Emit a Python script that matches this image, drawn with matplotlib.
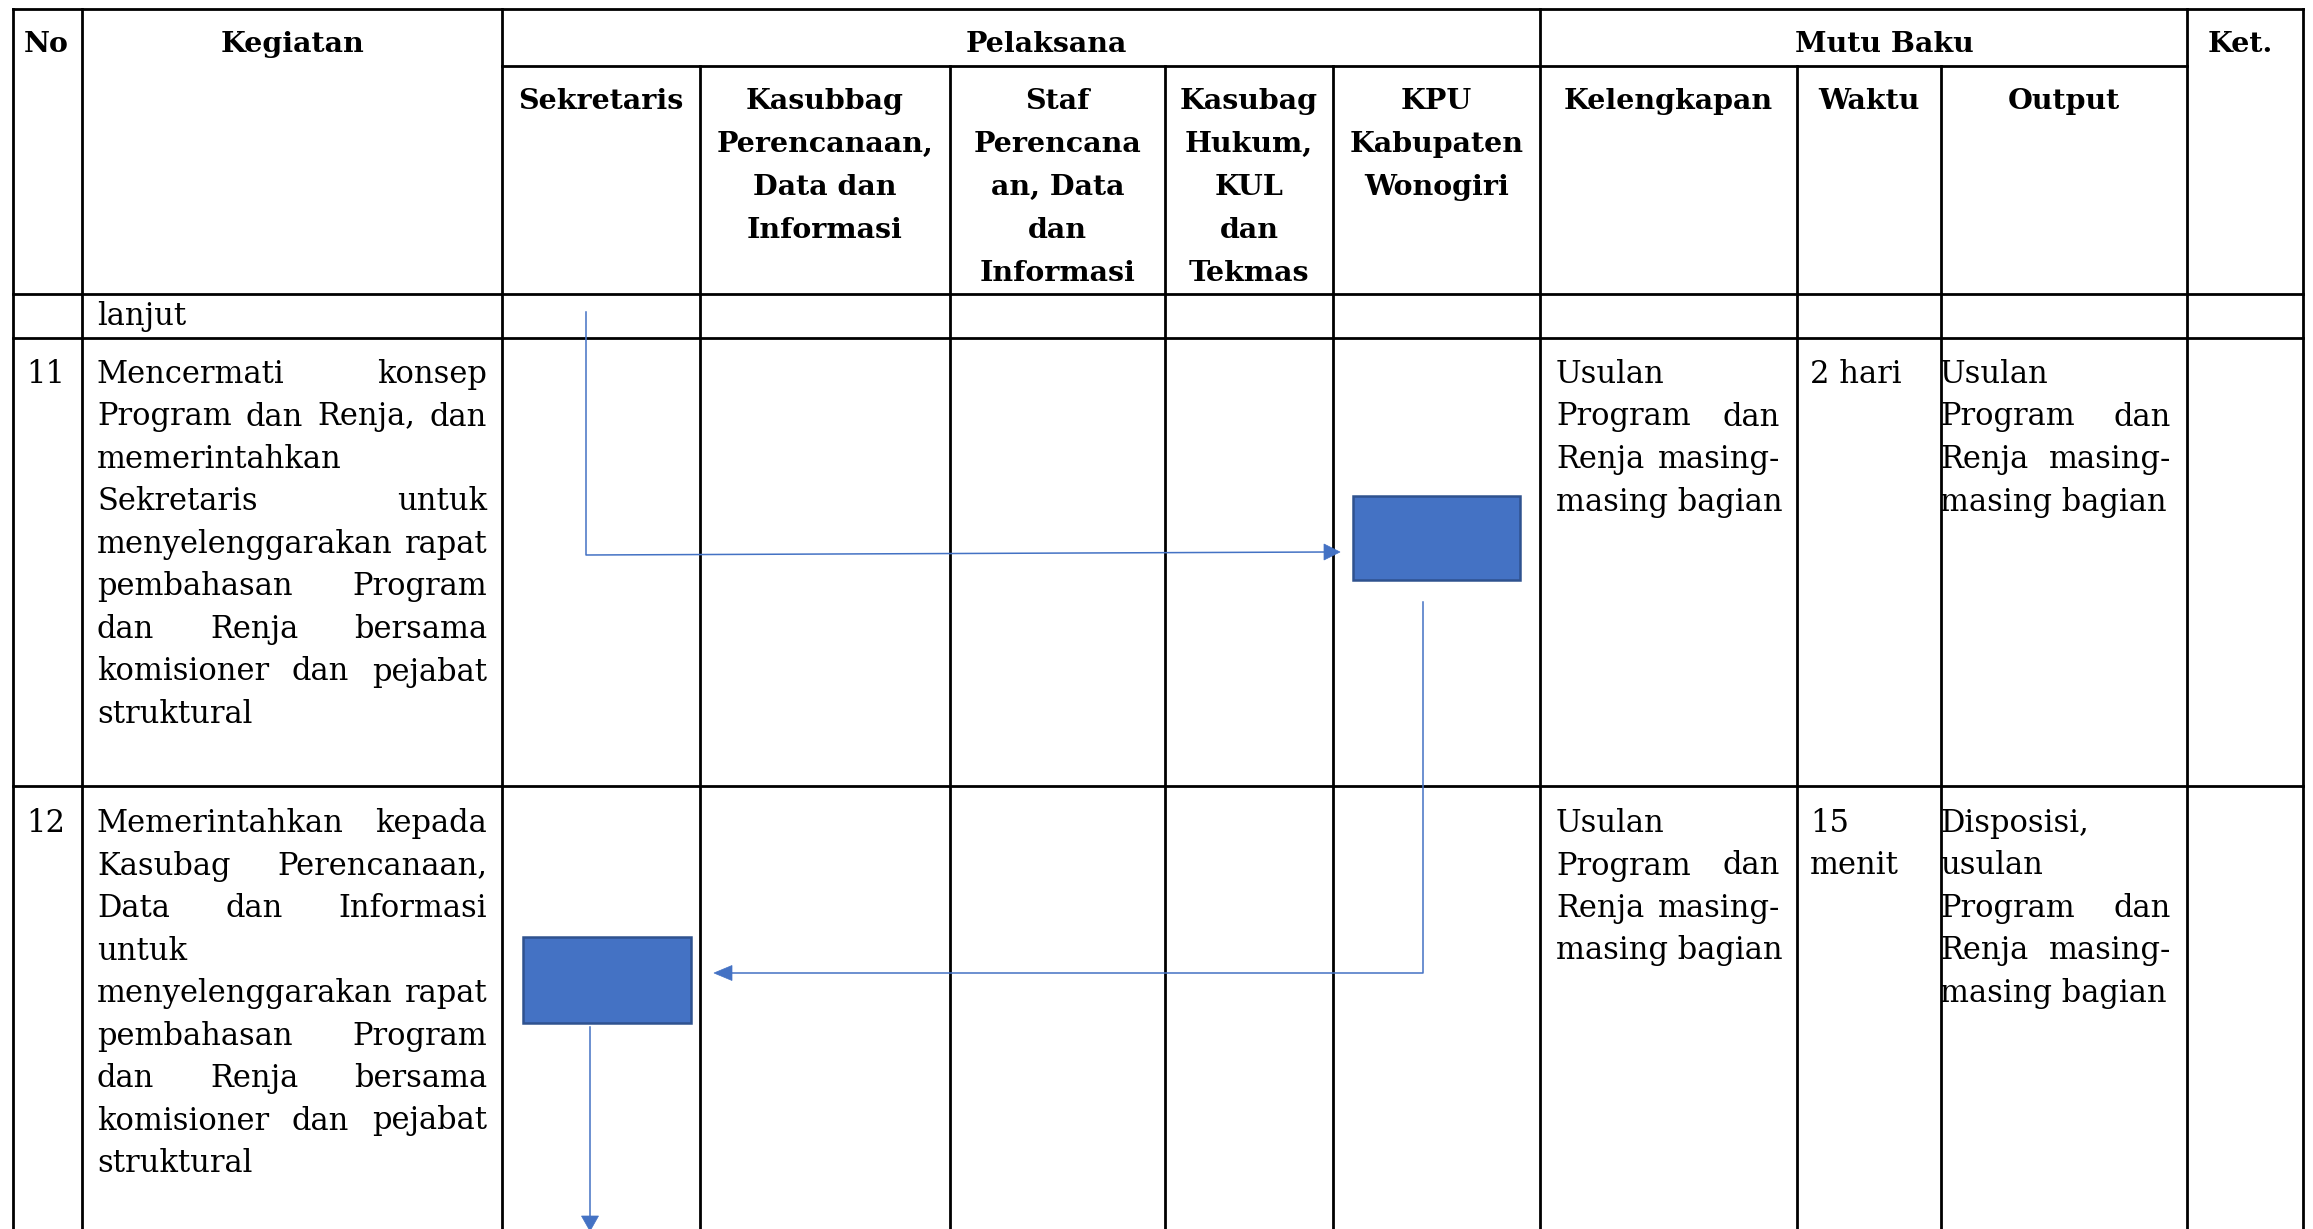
import matplotlib.pyplot as plt
from matplotlib.patches import Rectangle, Polygon

# table layout (pixels of the page)
col_x = [13, 82, 502, 700, 950, 1165, 1333, 1540, 1797, 1941, 2187, 2303]
row_y = [9, 66, 294, 338, 786]
W, H = 2313, 1229

# header texts
top_headers = ["No", "Kegiatan", "Pelaksana", "Mutu Baku", "Ket."]
top_header_x = [46, 292, 1046, 1884, 2240]
sub_headers = [
    ["Sekretaris"],
    ["Kasubbag", "Perencanaan,", "Data dan", "Informasi"],
    ["Staf", "Perencana", "an, Data", "dan", "Informasi"],
    ["Kasubag", "Hukum,", "KUL", "dan", "Tekmas"],
    ["KPU", "Kabupaten", "Wonogiri"],
    ["Kelengkapan"],
    ["Waktu"],
    ["Output"],
]

# body rows
row_no = ["11", "12"]
kegiatan = [
    ["Mencermati konsep", "Program dan Renja, dan", "memerintahkan",
     "Sekretaris untuk", "menyelenggarakan rapat", "pembahasan Program",
     "dan Renja bersama", "komisioner dan pejabat", "struktural"],
    ["Memerintahkan kepada", "Kasubag Perencanaan,", "Data dan Informasi",
     "untuk", "menyelenggarakan rapat", "pembahasan Program",
     "dan Renja bersama", "komisioner dan pejabat", "struktural"],
]
kelengkapan = [
    ["Usulan", "Program dan", "Renja masing-", "masing bagian"],
    ["Usulan", "Program dan", "Renja masing-", "masing bagian"],
]
waktu = [["2 hari"], ["15", "menit"]]
output = [
    ["Usulan", "Program dan", "Renja masing-", "masing bagian"],
    ["Disposisi,", "usulan", "Program dan", "Renja masing-", "masing bagian"],
]
row_baseline = [383, 832]
line_step = 42.5

BLUE = "#4472C4"
BLUE_EDGE = "#2F528F"
body_font = dict(family="DejaVu Serif", fontsize=22, color="black")
head_font = dict(family="DejaVu Serif", fontsize=20.5, fontweight="bold", color="black")

fig = plt.figure(figsize=(W / 100, H / 100), dpi=100)
ax = fig.add_axes([0, 0, 1, 1])
ax.set_xlim(0, W)
ax.set_ylim(H, 0)
ax.axis("off")
renderer = fig.canvas.get_renderer()

lw = 2.0
# horizontal rules
ax.plot([col_x[0], col_x[-1]], [row_y[0]] * 2, color="black", lw=lw)
ax.plot([col_x[2], col_x[-2]], [row_y[1]] * 2, color="black", lw=lw)
for y in row_y[2:]:
    ax.plot([col_x[0], col_x[-1]], [y, y], color="black", lw=lw)
# vertical rules
for i, x in enumerate(col_x):
    top = row_y[0] if i in (0, 1, 2, 7, 10, 11) else row_y[1]
    ax.plot([x, x], [top, H + 5], color="black", lw=lw)

# headers
for txt, x in zip(top_headers, top_header_x):
    ax.text(x, 52, txt, ha="center", va="baseline", **head_font)
for k, lines in enumerate(sub_headers):
    cx = (col_x[k + 2] + col_x[k + 3]) / 2
    for j, line in enumerate(lines):
        ax.text(cx, 109 + j * 43, line, ha="center", va="baseline", **head_font)

ax.text(97, 325, "lanjut", ha="left", va="baseline", **body_font)


def put_line(line, x0, x1, y, justify):
    words = line.split()
    if not justify or len(words) == 1:
        ax.text(x0, y, line, ha="left", va="baseline", **body_font)
        return
    objs = [ax.text(0, y, w, ha="left", va="baseline", **body_font) for w in words]
    widths = [o.get_window_extent(renderer).width for o in objs]
    gap = (x1 - x0 - sum(widths)) / (len(words) - 1)
    x = x0
    for o, w in zip(objs, widths):
        o.set_x(x)
        x += w + gap


def put_par(lines, x0, x1, y0):
    for j, line in enumerate(lines):
        put_line(line, x0, x1, y0 + j * line_step, j < len(lines) - 1)


for r in range(2):
    y0 = row_baseline[r]
    ax.text(46, y0, row_no[r], ha="center", va="baseline", **body_font)
    put_par(kegiatan[r], 97, 487, y0)
    put_par(kelengkapan[r], 1556, 1780, y0)
    put_par(waktu[r], 1810, 1930, y0)
    put_par(output[r], 1940, 2171, y0)

# flow boxes
boxes = [(1353, 496, 167, 84), (523, 937, 168, 86)]
for bx, by, bw, bh in boxes:
    ax.add_patch(Rectangle((bx, by), bw, bh, facecolor=BLUE,
                           edgecolor=BLUE_EDGE, lw=1.8, zorder=3))


def head(tip, d, length, width):
    tx, ty = tip
    dx, dy = d
    bx, by = tx - dx * length, ty - dy * length
    px, py = -dy * width / 2, dx * width / 2
    ax.add_patch(Polygon([(tx, ty), (bx + px, by + py), (bx - px, by - py)],
                         closed=True, facecolor=BLUE, edgecolor=BLUE, lw=0.5, zorder=4))


# connectors
ax.plot([586, 586, 1327], [312, 555, 552], color=BLUE, lw=1.1)
head((1340, 552), (1, 0), 16, 16)
ax.plot([1423, 1423, 730], [602, 973, 973], color=BLUE, lw=1.1)
head((714, 973), (-1, 0), 18, 15)
ax.plot([590, 590], [1027, 1218], color=BLUE, lw=1.1)
head((590, 1231), (0, 1), 15, 17)

fig.savefig("out.png", dpi=100, facecolor="white")
